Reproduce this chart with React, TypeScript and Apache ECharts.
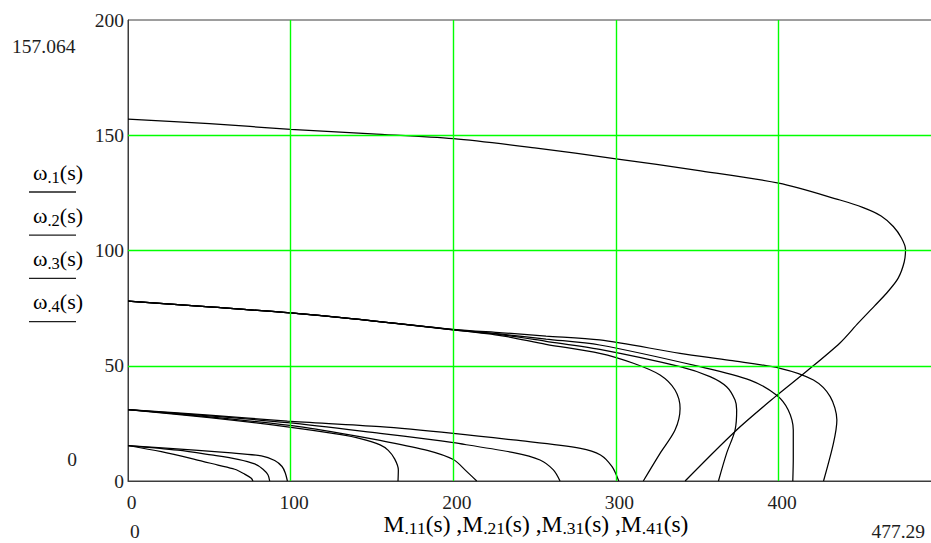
import React, { useEffect, useRef } from "react";
import * as echarts from "echarts";

// Speed ω (rad/s) against electromagnetic torque M (N·m) over the slip range s.
const xRange = [0, 500];
const yRange = [0, 200];
const xStep = 100;
const yStep = 50;
const gridX = [100, 200, 300, 400];
const gridY = [50, 100, 150];

// 50 Hz characteristic
const curve157 = [
  [0, 157.0], [50, 155.0], [100, 152.6], [150, 150.6], [200, 148.5], [250, 144.5],
  [300, 139.8], [350, 134.8], [400, 129.2], [437.7, 121.9], [452, 118.6],
  [463, 115.0], [470.5, 110.4], [475.5, 105.4], [478, 100.5], [477.2, 95.0],
  [473.5, 88.0], [467, 82.0], [459, 76.0], [449, 68.6], [437.7, 59.9],
  [417, 47.5], [397.8, 36.5], [373.2, 21.5], [342.5, 0],
];

// 25 Hz characteristics
const curve78a = [
  [0, 78], [50, 75.5], [100, 72.9], [150, 69.5], [200, 65.6], [230, 63.0],
  [257, 59.3], [290, 55.4], [310.7, 51.1], [327.1, 46], [336.3, 39.5],
  [339.4, 31.5], [336.3, 22.1], [327.1, 12], [316.8, 0],
];
const curve78b = [
  [0, 78], [50, 75.5], [100, 72.9], [150, 69.5], [200, 65.6], [230, 63.4],
  [257, 60.6], [290, 57.1], [339.4, 49.6], [357.8, 45.3], [368, 40.9],
  [373.2, 35.1], [374.2, 30.8], [373.2, 22.1], [368, 12], [363, 0],
];
const curve78c = [
  [0, 78], [50, 75.5], [100, 72.9], [150, 69.5], [200, 65.7], [230, 63.7],
  [257, 61.6], [290, 59.0], [351.7, 49.6], [382.4, 43.8], [398.6, 37.3],
  [405.9, 30.8], [409, 22.1], [409, 10], [408.7, 0],
];
const curve78d = [
  [0, 78], [50, 75.5], [100, 72.9], [150, 69.5], [200, 65.8], [230, 64.3],
  [257, 62.9], [290, 61.2], [339.4, 55.4], [370, 52.3], [400.9, 48.9],
  [421.4, 43.8], [431.7, 36.6], [435.8, 26.5], [433.7, 16.4], [427.6, 0],
];

// 10 Hz characteristics
const curve31a = [
  [0, 31], [50, 27.5], [98, 23.5], [130, 20.2], [143.4, 18.3], [155, 15.7],
  [160, 13.3], [164, 9.5], [166.2, 4.8], [166, 0],
];
const curve31b = [
  [0, 31], [50, 27.8], [98, 24.2], [130, 20.8], [155, 17.6], [184, 13.3],
  [200, 9.3], [208, 4.3], [214.4, 0],
];
const curve31c = [
  [0, 31], [50, 28.3], [98, 25.3], [155, 20.7], [184, 18.2], [200, 16.6],
  [237, 12.3], [253.3, 9.1], [261.5, 4.8], [265.6, 0],
];
const curve31d = [
  [0, 31], [50, 28.6], [98, 26.0], [155, 23.6], [200, 20.7], [237, 17.8],
  [278.2, 14.2], [290.5, 11.3], [297.6, 6.2], [301.7, 0],
];

// 5 Hz characteristics
const curve15a = [
  [0, 15.4], [20.5, 12.7], [41, 9.4], [55.3, 6.9], [65.6, 5.1], [71.7, 3.0],
  [75.8, 1.2], [76.8, 0],
];
const curve15b = [
  [0, 15.4], [30.7, 13.4], [51.2, 11.3], [67.6, 9.4], [77.9, 7.4], [83, 5.1],
  [86.1, 2.6], [87.1, 0],
];
const curve15c = [
  [0, 15.4], [41, 13.4], [61.5, 12.3], [82, 10.9], [90.2, 8.9], [94.7, 6.3],
  [96.7, 3.5], [98, 0],
];

const curves = [
  curve157,
  curve78a, curve78b, curve78c, curve78d,
  curve31a, curve31b, curve31c, curve31d,
  curve15a, curve15b, curve15c,
];

const yLimitTop = "157.064";
const yLimitBottom = "0";
const xLimitLeft = "0";
const xLimitRight = "477.29";
const traceIndices = ["1", "2", "3", "4"];

const FONT = "Liberation Serif";
const INK = "#1e1e1e";

function App() {
  const ref = useRef<HTMLDivElement>(null);

  useEffect(() => {
    if (!ref.current) return;
    const chart = echarts.init(ref.current, undefined, { renderer: "svg" });

    const legendRich = {
      a: { fontFamily: FONT, fontSize: 22, color: INK },
      s: { fontFamily: FONT, fontSize: 16.5, color: INK, padding: [10, 0, 0, 0] },
    };
    const titleRich = {
      a: { fontFamily: FONT, fontSize: 23.5, color: INK },
      s: { fontFamily: FONT, fontSize: 17.5, color: INK, padding: [7, 0, 0, 0] },
    };

    const legendItems: any[] = [];
    traceIndices.forEach((k, i) => {
      const cy = 172 + i * 43.2;
      legendItems.push({
        type: "text",
        x: 33,
        y: cy,
        silent: true,
        style: {
          text: `{a|ω}{s|.${k}}{a|(s)}`,
          rich: legendRich,
          align: "left",
          verticalAlign: "middle",
          textAlign: "left",
          textVerticalAlign: "middle",
        },
      });
      legendItems.push({
        type: "line",
        silent: true,
        shape: { x1: 29, y1: cy + 20, x2: 76, y2: cy + 20 },
        style: { stroke: INK, lineWidth: 1.3 },
      });
    });

    const plainText = (text: string, x: number, y: number, align: string) => ({
      type: "text",
      x,
      y,
      silent: true,
      style: {
        text,
        fontFamily: FONT,
        fontSize: 19.5,
        fill: INK,
        align,
        verticalAlign: "middle",
        textAlign: align,
        textVerticalAlign: "middle",
      },
    });

    const titleParts = ["11", "21", "31", "41"]
      .map((k, i) => `{a|${i ? " ,M" : "M"}}{s|.${k}}{a|(s)}`)
      .join("");

    chart.setOption({
      animation: false,
      backgroundColor: "#ffffff",
      textStyle: { fontFamily: FONT },
      grid: {
        left: 128,
        top: 20,
        width: 813.3,
        height: 461,
        show: true,
        borderColor: "#3c3c3c",
        borderWidth: 1,
        backgroundColor: "transparent",
      },
      xAxis: {
        type: "value",
        min: xRange[0],
        max: xRange[1],
        interval: xStep,
        axisLine: { show: true, lineStyle: { color: "#3c3c3c", width: 1 } },
        axisTick: { show: false },
        splitLine: { show: false },
        axisLabel: {
          fontFamily: FONT,
          fontSize: 19.5,
          color: INK,
          margin: 11,
          padding: [0, 0, 0, 7],
          showMinLabel: true,
          showMaxLabel: false,
        },
      },
      yAxis: {
        type: "value",
        min: yRange[0],
        max: yRange[1],
        interval: yStep,
        axisLine: { show: true, lineStyle: { color: "#3c3c3c", width: 1 } },
        axisTick: { show: false },
        splitLine: { show: false },
        axisLabel: {
          fontFamily: FONT,
          fontSize: 19.5,
          color: INK,
          margin: 4,
          showMinLabel: true,
          showMaxLabel: true,
          padding: [7, 0, 0, 0],
        },
      },
      series: [
        {
          type: "line",
          data: [[0, 0]],
          showSymbol: false,
          lineStyle: { opacity: 0 },
          silent: true,
          z: 1,
          markLine: {
            silent: true,
            symbol: ["none", "none"],
            label: { show: false },
            lineStyle: { color: "#00ff00", width: 1.4, type: "solid" },
            emphasis: { disabled: true },
            data: [
              ...gridX.map((v) => ({ xAxis: v })),
              ...gridY.map((v) => ({ yAxis: v })),
            ],
          },
        },
        ...curves.map((c) => ({
          type: "line",
          data: c,
          showSymbol: false,
          smooth: 0.3,
          silent: true,
          z: 3,
          lineStyle: { color: "#000000", width: 1.25 },
        })),
      ],
      graphic: [
        plainText(yLimitTop, 12, 46, "left"),
        plainText(yLimitBottom, 77, 459, "right"),
        plainText(xLimitLeft, 130, 531, "left"),
        plainText(xLimitRight, 925, 531, "right"),
        {
          type: "text",
          x: 536,
          y: 524,
          silent: true,
          style: {
            text: titleParts,
            rich: titleRich,
            align: "center",
            verticalAlign: "middle",
            textAlign: "center",
            textVerticalAlign: "middle",
          },
        },
        ...legendItems,
      ],
    });

    return () => chart.dispose();
  }, []);

  return (
    <div
      style={{
        position: "absolute",
        left: 0,
        top: 0,
        width: 931,
        height: 543,
        overflow: "hidden",
        background: "#fff",
      }}
    >
      <div ref={ref} style={{ width: 950, height: 543 }} />
    </div>
  );
}

export default App;
